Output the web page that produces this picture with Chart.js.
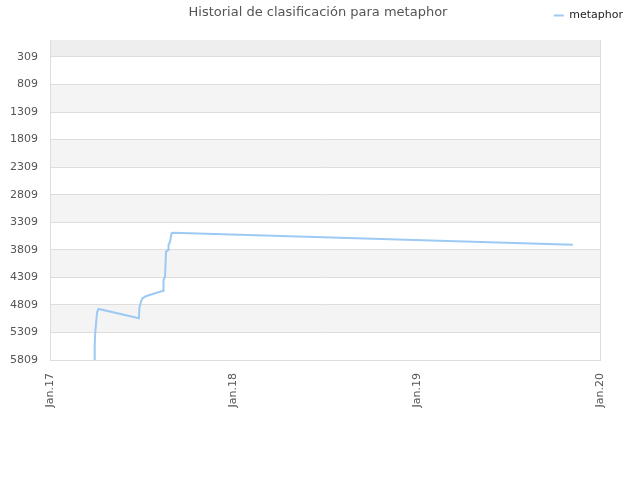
<!DOCTYPE html>
<html>
<head>
<meta charset="utf-8">
<script src="https://cdn.jsdelivr.net/npm/chart.js@4.4.0/dist/chart.umd.min.js"></script>
<style>
html,body{margin:0;padding:0;background:#fff;}
#wrap{width:640px;height:480px;}
</style>
</head>
<body>
<div id="wrap"><canvas id="c" width="640" height="480"></canvas></div>
<script>
const chartTitle = "Historial de clasificación para metaphor";
const seriesName = "metaphor";
const dates = ["2017-03-30","2017-03-31","2017-04-01","2017-04-03","2017-04-05","2017-04-08",
  "2017-06-27","2017-06-28","2017-07-01","2017-07-04","2017-07-12","2017-08-14","2017-08-15",
  "2017-08-18","2017-08-20","2017-08-24","2017-08-25","2017-08-28","2017-08-31","2017-09-03","2019-11-08"];
const ranks = [5809,5537,5319,5114,4932,4883,
  5052,4865,4751,4689,4647,4551,4357,
  4297,3843,3813,3722,3662,3510,3499,3717];
const yTicks = [309,809,1309,1809,2309,2809,3309,3809,4309,4809,5309,5809];
const xTickDates = ["2017-01-01","2018-01-01","2019-01-01","2020-01-01"];
const xTickLabels = ["Jan.17","Jan.18","Jan.19","Jan.20"];
const yMin = 1, yMax = 5809;

const toMs = s => Date.parse(s + "T00:00:00Z");
const points = dates.map((d,i)=>({x:toMs(d), y:ranks[i]}));
const xTickMs = xTickDates.map(toMs);

const bandsPlugin = {
  id:'bands',
  beforeDraw(chart){
    const {ctx, chartArea:a, scales:{y}} = chart;
    ctx.save();
    const edges = [yMin].concat(yTicks);
    for(let i=0;i<edges.length-1;i++){
      const y0 = y.getPixelForValue(edges[i]);
      const y1 = y.getPixelForValue(edges[i+1]);
      let col = null;
      if(i===0) col = '#eeeeee';
      else if(i%2===0) col = '#f4f4f4';
      if(col){ ctx.fillStyle = col; ctx.fillRect(a.left, y0, a.right-a.left, y1-y0); }
    }
    ctx.restore();
  },
  afterDraw(chart){
    const ctx = chart.ctx;
    ctx.save();
    ctx.font = '13px "DejaVu Sans"';
    ctx.fillStyle = '#555555';
    ctx.textAlign = 'center';
    ctx.textBaseline = 'middle';
    ctx.fillText(chartTitle, 318, 13);
    ctx.restore();
  }
};

new Chart(document.getElementById('c'), {
  type:'line',
  data:{datasets:[{
    label: seriesName,
    data: points,
    borderColor:'#9ccaf5',
    backgroundColor:'#9ccaf5',
    borderWidth:2,
    pointRadius:0,
    tension:0,
    fill:false
  }]},
  options:{
    responsive:false,
    animation:false,
    devicePixelRatio:1,
    layout:{padding:{left:0,right:7,top:0,bottom:0}},
    plugins:{
      title:{display:false},
      tooltip:{enabled:false},
      legend:{
        display:true, position:'top', align:'end',
        labels:{usePointStyle:true, pointStyle:'line', pointStyleWidth:10, boxHeight:2,
          font:{family:'"DejaVu Sans"', size:11}, color:'#222', padding:10}
      }
    },
    scales:{
      x:{
        type:'linear',
        min:xTickMs[0], max:xTickMs[xTickMs.length-1],
        afterBuildTicks(s){ s.ticks = xTickMs.map(v=>({value:v})); },
        afterFit(s){ s.height = 120; },
        grid:{display:false, drawTicks:false},
        border:{display:true, color:'#dddddd'},
        ticks:{
          callback(v){ const i = xTickMs.indexOf(v); return i>=0 ? xTickLabels[i] : ''; },
          maxRotation:90, minRotation:90, autoSkip:false,
          font:{family:'"DejaVu Sans"', size:11}, color:'#555', padding:13
        }
      },
      xTop:{
        type:'linear', position:'top', display:true,
        afterFit(s){ s.height = 9; },
        grid:{display:false, drawTicks:false},
        border:{display:false},
        ticks:{display:false}
      },
      y:{
        type:'linear', reverse:true, min:yMin, max:yMax,
        afterBuildTicks(s){ s.ticks = yTicks.map(v=>({value:v})); },
        afterFit(s){ s.width = 50; },
        grid:{color:'#dddddd', drawTicks:false, lineWidth:1},
        border:{display:true, color:'#dddddd'},
        ticks:{font:{family:'"DejaVu Sans"', size:11}, color:'#555', padding:12, autoSkip:false,
          callback(v){ return String(v); }}
      },
      yRight:{
        type:'linear', position:'right', display:true,
        afterFit(s){ s.width = 33; },
        grid:{display:false, drawTicks:false},
        border:{display:true, color:'#dddddd'},
        ticks:{display:false}
      }
    }
  },
  plugins:[bandsPlugin]
});
</script>
</body>
</html>
